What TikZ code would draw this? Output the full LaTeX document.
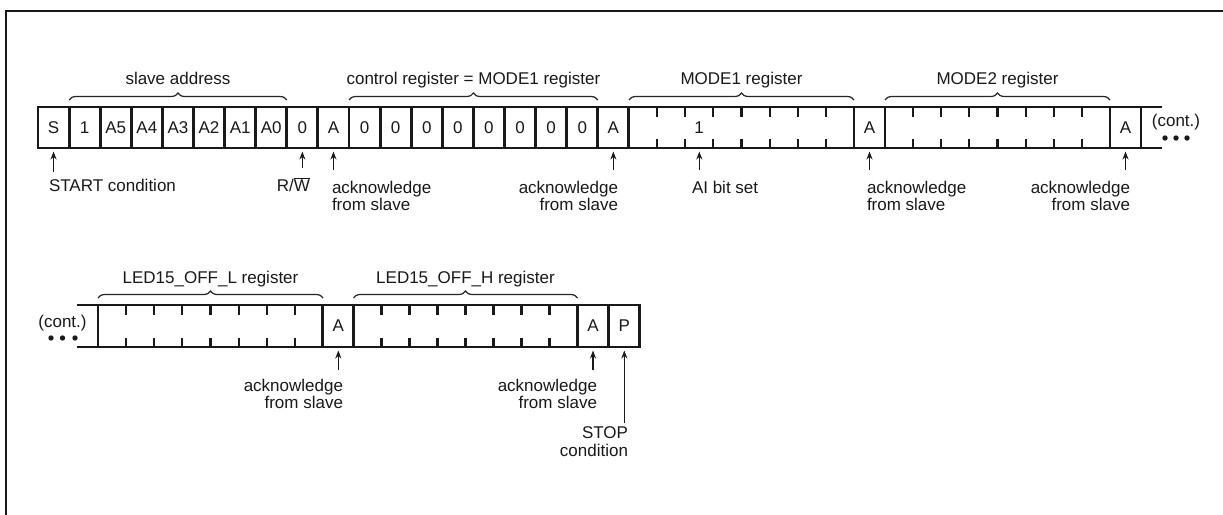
\documentclass[tikz,border=0pt]{standalone}
\usepackage{fontspec}
\setmainfont{Liberation Sans}
\usetikzlibrary{calc,arrows.meta,decorations.pathreplacing}

% seven bit separators at the top and bottom edge of a register box
\newcommand\drawticks[1]{%
  \foreach \j in {1,...,7}{%
    \draw[tick] ($(#1.north west)!\j/8!(#1.north east)$) -- ++(0,9.5);
    \draw[tick] ($(#1.south west)!\j/8!(#1.south east)$) -- ++(0,-9.5);
  }}

\begin{document}
\begin{tikzpicture}[x=1pt,y=-1pt,
  every node/.style={font=\fontsize{17}{17.5}\selectfont, inner sep=0pt, outer sep=0pt, text=black!90},
  cell/.style={draw=black!90, line width=2.8pt, minimum width=31pt, minimum height=41pt},
  regbox/.style={cell, minimum width=225pt},
  tick/.style={line width=2.1pt, black!90},
  rail/.style={line width=2.8pt, black!90},
  brc/.style={decorate, decoration={brace, amplitude=7pt}, line width=1.2pt, black!85},
  arr/.style={-{Stealth[length=8pt,width=6pt]}, line width=1.5pt, black!90},
  note/.style={align=left},
  noter/.style={align=right},
]
\useasboundingbox (0,0) rectangle (1223,514);
\fill[white] (0,0) rectangle (1223,514);
\draw[line width=2.6pt, black!90] (6,520) -- (6,11) -- (1230,11);

% ---------------- first line of the transfer ----------------
\foreach \t [count=\i from 0] in {S,1,A5,A4,A3,A2,A1,A0,0,A,0,0,0,0,0,0,0,0,A}
  \node[cell] (c\i) at ({53.55+31.1*\i},127.5) {\t};
\node[regbox] (m1) at (741.5,127.5) {};
\node[cell] (c19) at (869.5,127.5) {A};
\node[regbox] (m2) at (997.5,127.5) {};
\node[cell] (c20) at (1125.5,127.5) {A};
\drawticks{m1}
\drawticks{m2}
\node (bit1) at (699.2,127.5) {1};

\coordinate (r1t) at (1162,107);
\coordinate (r1b) at (1162,148);
\draw[rail] (c20.north east) -- (r1t);
\draw[rail] (c20.south east) -- (r1b);
\node (cont1) at (1176,122) {(cont.)};
\foreach \dx in {-11,0,11}
  \fill[black!90] ($(cont1.center)+(\dx,16)$) circle (2.7pt);

% braces over the first line
\draw[brc] ([yshift=7pt]c1.north west) -- ([yshift=7pt]c7.north east)
  node[midway, anchor=base, yshift=16pt] {slave address};
\draw[brc] ([yshift=7pt]c10.north west) -- ([yshift=7pt]c17.north east)
  node[midway, anchor=base, yshift=16pt] {control register = MODE1 register};
\draw[brc] ([yshift=7pt]m1.north west) -- ([yshift=7pt]m1.north east)
  node[midway, anchor=base, yshift=16pt] {MODE1 register};
\draw[brc] ([yshift=7pt]m2.north west) -- ([yshift=7pt]m2.north east)
  node[midway, anchor=base, yshift=16pt] {MODE2 register};

% pointers under the first line
\draw[arr] ($(c0.south)+(0,24)$) -- ($(c0.south)+(0,3.5)$);
\node[anchor=base west] (startlbl) at (49,191) {START condition};
\draw[arr] ($(c8.south)+(0,20)$) -- ($(c8.south)+(0,3.5)$);
\node[anchor=base east] (rw) at (310,191) {R/$\overline{\mbox{W}}$};
\draw[arr] ($(c9.south)+(0,22)$) -- ($(c9.south)+(0,3.5)$);
\node[note, anchor=north west] (ack1) at (332,181) {acknowledge\\from slave};
\draw[arr] ($(c18.south)+(0,22)$) -- ($(c18.south)+(0,3.5)$);
\node[noter, anchor=north east] (ack2) at (618,181) {acknowledge\\from slave};
\draw[arr] ($(m1.south west)!2.5/8!(m1.south east)+(0,22)$) -- ($(m1.south west)!2.5/8!(m1.south east)+(0,3.5)$);
\node[anchor=base west] (aibit) at (692,193) {AI bit set};
\draw[arr] ($(c19.south)+(0,22)$) -- ($(c19.south)+(0,3.5)$);
\node[note, anchor=north west] (ack3) at (867,181) {acknowledge\\from slave};
\draw[arr] ($(c20.south)+(0,22)$) -- ($(c20.south)+(0,3.5)$);
\node[noter, anchor=north east] (ack4) at (1130,181) {acknowledge\\from slave};

% ---------------- second line of the transfer ----------------
\node[regbox, minimum height=42pt] (lo) at (210.5,326) {};
\node[cell, minimum height=42pt] (c21) at (338.3,326) {A};
\node[regbox, minimum height=42pt, minimum width=224pt] (hi) at (465.5,326) {};
\node[cell, minimum height=42pt] (c22) at (593,326) {A};
\node[cell, minimum height=42pt] (pp) at (624.3,326) {P};
\drawticks{lo}
\drawticks{hi}

\coordinate (r2t) at (77,305);
\coordinate (r2b) at (77,347);
\draw[rail] (r2t) -- (lo.north west);
\draw[rail] (r2b) -- (lo.south west);
\node (cont2) at (62.5,323) {(cont.)};
\foreach \dx in {-11.5,0,12.5}
  \fill[black!90] ($(cont2.center)+(\dx,15)$) circle (2.7pt);

\draw[brc] ([yshift=7pt]lo.north west) -- ([yshift=7pt]lo.north east)
  node[midway, anchor=base, yshift=15pt] {LED15\_OFF\_L register};
\draw[brc] ([yshift=7pt]hi.north west) -- ([yshift=7pt]hi.north east)
  node[midway, anchor=base, yshift=15pt] {LED15\_OFF\_H register};

\draw[arr] ($(c21.south)+(0,23)$) -- ($(c21.south)+(0,3.5)$);
\node[noter, anchor=north east] (ack5) at (343,379) {acknowledge\\from slave};
\draw[arr] ($(c22.south)+(0,23)$) -- ($(c22.south)+(0,3.5)$);
\node[noter, anchor=north east] (ack6) at (597,379) {acknowledge\\from slave};
\draw[arr] ($(pp.south)+(0,76)$) -- ($(pp.south)+(0,3.5)$);
\node[noter, anchor=north east] (stop) at (628,427) {STOP\\condition};
\end{tikzpicture}
\end{document}
